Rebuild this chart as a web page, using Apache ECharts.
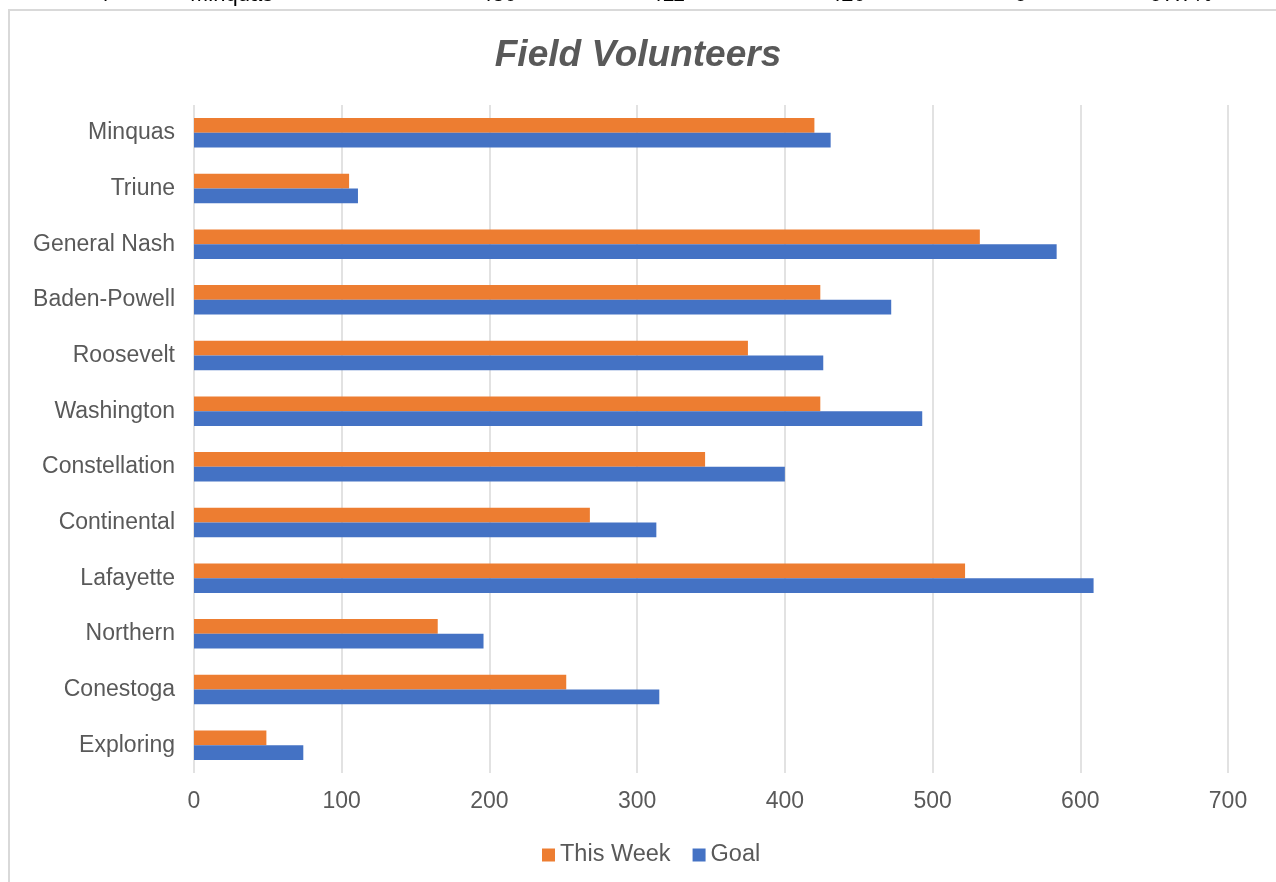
<!DOCTYPE html>
<html>
<head>
<meta charset="utf-8">
<title>Field Volunteers</title>
<script src="https://cdn.jsdelivr.net/npm/echarts@6/dist/echarts.min.js"></script>
<style>
  html, body { margin: 0; padding: 0; background: #fff; }
  #chart { width: 1276px; height: 882px; }
</style>
</head>
<body>
<div id="chart"></div>
<script>
// data
const categories = [
  "Minquas", "Triune", "General Nash", "Baden-Powell", "Roosevelt", "Washington",
  "Constellation", "Continental", "Lafayette", "Northern", "Conestoga", "Exploring"
];
const thisWeek = [420, 105, 532, 424, 375, 424, 346, 268, 522, 165, 252, 49];
const goal = [431, 111, 584, 472, 426, 493, 400, 313, 609, 196, 315, 74];
const xTicks = [0, 100, 200, 300, 400, 500, 600, 700];

// the spreadsheet row cut off above the chart
const topRow = [
  { x: 97, text: "4" },
  { x: 190, text: "Minquas" },
  { x: 480, text: "430" },
  { x: 650, text: "411" },
  { x: 829, text: "420" },
  { x: 1015, text: "9" },
  { x: 1150, text: "97.7%" }
];

const FONT = "'Liberation Sans', Arial, sans-serif";
const GREY = "#595959";

const myChart = echarts.init(document.getElementById("chart"));

const option = {
  animation: false,
  backgroundColor: "#ffffff",
  textStyle: { fontFamily: FONT },
  title: {
    text: "Field Volunteers",
    left: "center",
    top: 32,
    textStyle: {
      fontFamily: FONT,
      fontSize: 37,
      fontWeight: "bold",
      fontStyle: "italic",
      color: GREY
    }
  },
  legend: {
    data: ["This Week", "Goal"],
    left: 537,
    top: 838,
    itemWidth: 13,
    itemHeight: 13,
    itemGap: 22,
    icon: "rect",
    textStyle: { fontFamily: FONT, fontSize: 23.5, color: GREY }
  },
  grid: {
    left: 194,
    right: 48,
    top: 105,
    bottom: 109,
    containLabel: false
  },
  xAxis: {
    type: "value",
    min: xTicks[0],
    max: xTicks[xTicks.length - 1],
    interval: 100,
    axisLine: { show: false },
    axisTick: { show: false },
    axisLabel: {
      margin: 17,
      fontFamily: FONT,
      fontSize: 23,
      color: GREY
    },
    splitLine: {
      show: true,
      lineStyle: { color: "#d9d9d9", width: 1.5 }
    }
  },
  yAxis: {
    type: "category",
    inverse: true,
    data: categories,
    axisLine: { show: false },
    axisTick: { show: false },
    axisLabel: {
      margin: 19,
      fontFamily: FONT,
      fontSize: 23,
      color: GREY
    },
    splitLine: { show: false }
  },
  series: [
    {
      name: "This Week",
      type: "bar",
      data: thisWeek,
      barGap: "0%",
      barCategoryGap: "47%",
      itemStyle: { color: "#ED7D31" }
    },
    {
      name: "Goal",
      type: "bar",
      data: goal,
      barGap: "0%",
      barCategoryGap: "47%",
      itemStyle: { color: "#4472C4" }
    }
  ],
  graphic: [
    {
      type: "rect",
      silent: true,
      shape: { x: 9, y: 10, width: 1300, height: 900 },
      style: { fill: "none", stroke: "#d9d9d9", lineWidth: 2 }
    }
  ].concat(topRow.map(function (t) {
    return {
      type: "text",
      silent: true,
      x: t.x,
      y: 6,
      style: {
        text: t.text,
        font: "22px " + FONT,
        fill: "#000000",
        verticalAlign: "bottom"
      }
    };
  }))
};

myChart.setOption(option);

window.onresize = function () {
  myChart.resize();
};
</script>
</body>
</html>
